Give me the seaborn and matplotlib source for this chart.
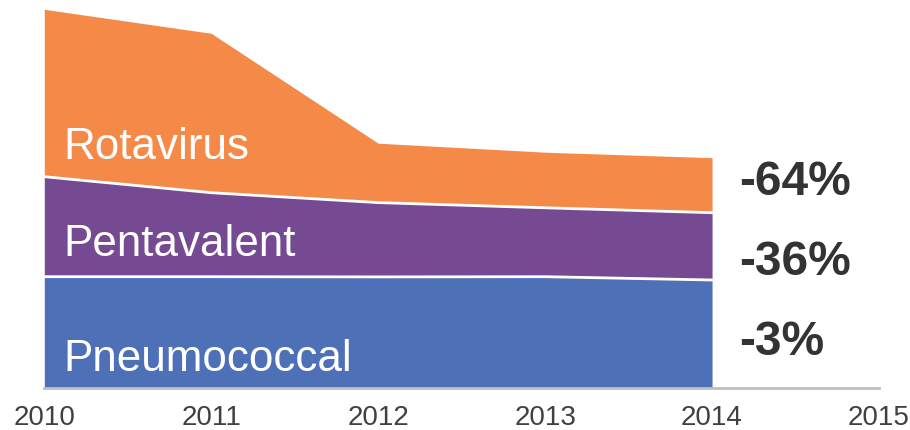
import numpy as np
import pandas as pd
import seaborn as sns
import matplotlib.pyplot as plt

years = [2010, 2011, 2012, 2013, 2014]
pneumococcal = [111.6, 111.6, 111.4, 111.6, 108.3]
pentavalent = [100.0, 84.0, 74.3, 68.9, 67.3]
rotavirus = [167.4, 159.4, 59.4, 55.6, 55.0]
series_names = ["Pneumococcal", "Pentavalent", "Rotavirus"]
changes = ["-3%", "-36%", "-64%"]
xticks = [2010, 2011, 2012, 2013, 2014, 2015]

colors = ["#4E70B7", "#754A93", "#F58A48"]

sns.set_style("white")
plt.rcParams['font.family'] = ['Liberation Sans', 'DejaVu Sans']

fig = plt.figure(figsize=(9.1, 4.3), dpi=100)
ax = fig.add_axes([44.3 / 910, 41.7 / 430, 834.7 / 910, 388.3 / 430])

ax.stackplot(years, pneumococcal, pentavalent, rotavirus, colors=colors, linewidth=0)

# white separators between the stacked layers
cum = np.cumsum([pneumococcal, pentavalent], axis=0)
bounds = pd.DataFrame({"year": years * 2,
                       "y": np.concatenate(cum),
                       "layer": ["a"] * 5 + ["b"] * 5})
sns.lineplot(data=bounds, x="year", y="y", units="layer", estimator=None,
             color="white", linewidth=2, ax=ax, legend=False)

ax.set_xlim(2010, 2015)
ax.set_ylim(0, 388.3)
ax.set_xticks(xticks)
ax.set_xticklabels([str(t) for t in xticks], fontsize=20, color="#404040")
ax.tick_params(axis="x", length=0, pad=12)
ax.set_yticks([])
ax.set(xlabel=None, ylabel=None)
for s in ["top", "left", "right"]:
    ax.spines[s].set_visible(False)
ax.spines["bottom"].set_color("#BFBFBF")
ax.spines["bottom"].set_linewidth(2)
ax.spines["bottom"].set_zorder(5)

# series names inside the areas
name_y = [17, 132, 229]
for name, y in zip(series_names, name_y):
    ax.text(2010.112, y, name, color="white", fontsize=31.7, va="baseline", ha="left")

# percent change labels
pct_y = [33, 113, 193]
for txt, y in zip(changes, pct_y):
    ax.text(2014.165, y, txt, color="#333333", fontsize=34.5, fontweight="bold",
            va="baseline", ha="left")

plt.savefig("out.png", dpi=100)
